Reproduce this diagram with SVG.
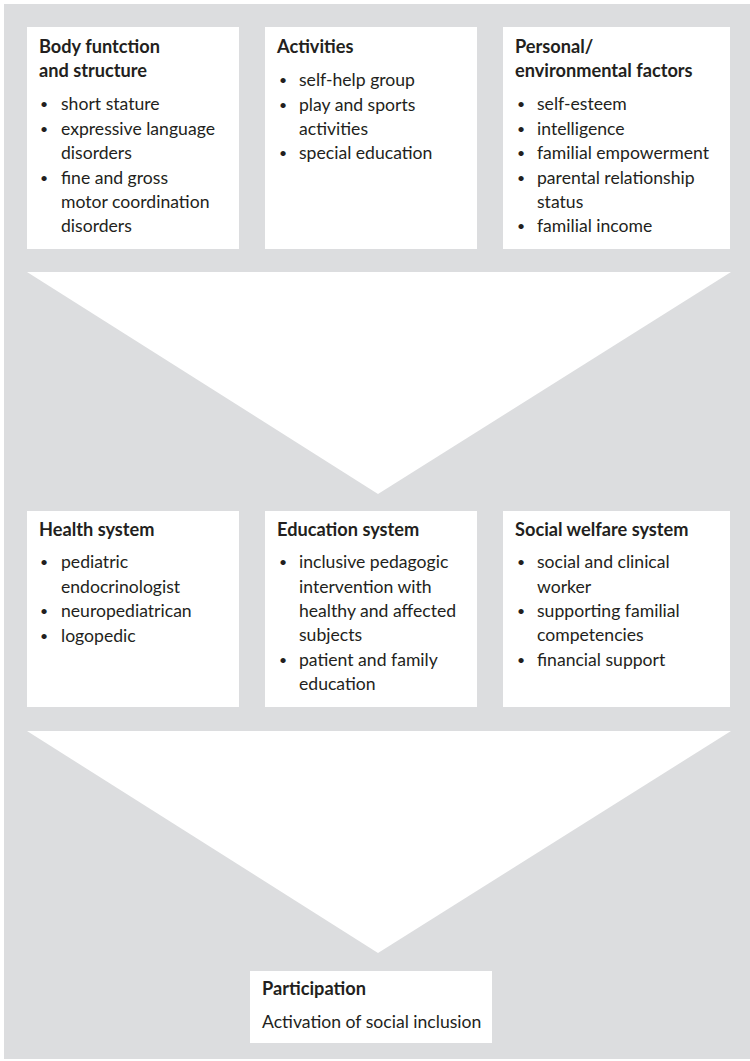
<svg xmlns="http://www.w3.org/2000/svg" width="750" height="1061" viewBox="0 0 750 1061">
<style>
.box{fill:#ffffff}
.arrow{fill:#ffffff}
text{font-family:"Lato","Liberation Sans",sans-serif;fill:#231f20;font-size:17.6px}
.t{font-weight:bold;font-size:18.2px}
.b{font-size:14px}
</style>
<rect x="4" y="4" width="746" height="1055" fill="#dcdddf"/>
<g id="connectors">
<polygon class="arrow" points="27,272 731,272 378,494"/>
<polygon class="arrow" points="27,731 731,731 378,953"/>
</g>
<g id="body">
<rect class="box" x="27" y="27" width="212" height="222"/>
<text class="t" x="39" y="53">Body funtction</text>
<text class="t" x="39" y="77">and structure</text>
<text class="b" x="40" y="109">•</text><text x="61" y="110">short stature</text>
<text class="b" x="40" y="134">•</text><text x="61" y="135">expressive language</text>
<text x="61" y="159">disorders</text>
<text class="b" x="40" y="183">•</text><text x="61" y="184">fine and gross</text>
<text x="61" y="208">motor coordination</text>
<text x="61" y="232">disorders</text>
</g>
<g id="activities">
<rect class="box" x="265" y="27" width="212" height="222"/>
<text class="t" x="277" y="53">Activities</text>
<text class="b" x="279" y="85">•</text><text x="299" y="86">self-help group</text>
<text class="b" x="279" y="110">•</text><text x="299" y="111">play and sports</text>
<text x="299" y="135">activities</text>
<text class="b" x="279" y="158">•</text><text x="299" y="159">special education</text>
</g>
<g id="personal">
<rect class="box" x="503" y="27" width="227" height="222"/>
<text class="t" x="515" y="53">Personal/</text>
<text class="t" x="515" y="77">environmental factors</text>
<text class="b" x="517" y="109">•</text><text x="537" y="110">self-esteem</text>
<text class="b" x="517" y="134">•</text><text x="537" y="135">intelligence</text>
<text class="b" x="517" y="158">•</text><text x="537" y="159">familial empowerment</text>
<text class="b" x="517" y="183">•</text><text x="537" y="184">parental relationship</text>
<text x="537" y="208">status</text>
<text class="b" x="517" y="231">•</text><text x="537" y="232">familial income</text>
</g>
<g id="health">
<rect class="box" x="27" y="511" width="212" height="196"/>
<text class="t" x="39" y="536">Health system</text>
<text class="b" x="40" y="567">•</text><text x="61" y="568">pediatric</text>
<text x="61" y="593">endocrinologist</text>
<text class="b" x="40" y="616">•</text><text x="61" y="617">neuropediatrican</text>
<text class="b" x="40" y="641">•</text><text x="61" y="642">logopedic</text>
</g>
<g id="education">
<rect class="box" x="265" y="511" width="212" height="196"/>
<text class="t" x="277" y="536">Education system</text>
<text class="b" x="279" y="567">•</text><text x="299" y="568">inclusive pedagogic</text>
<text x="299" y="593">intervention with</text>
<text x="299" y="617">healthy and affected</text>
<text x="299" y="641">subjects</text>
<text class="b" x="279" y="665">•</text><text x="299" y="666">patient and family</text>
<text x="299" y="690">education</text>
</g>
<g id="social">
<rect class="box" x="503" y="511" width="227" height="196"/>
<text class="t" x="515" y="536">Social welfare system</text>
<text class="b" x="517" y="567">•</text><text x="537" y="568">social and clinical</text>
<text x="537" y="593">worker</text>
<text class="b" x="517" y="616">•</text><text x="537" y="617">supporting familial</text>
<text x="537" y="641">competencies</text>
<text class="b" x="517" y="665">•</text><text x="537" y="666">financial support</text>
</g>
<g id="participation">
<rect class="box" x="250" y="971" width="242" height="72"/>
<text class="t" x="262" y="995">Participation</text>
<text x="262" y="1028">Activation of social inclusion</text>
</g>
</svg>
